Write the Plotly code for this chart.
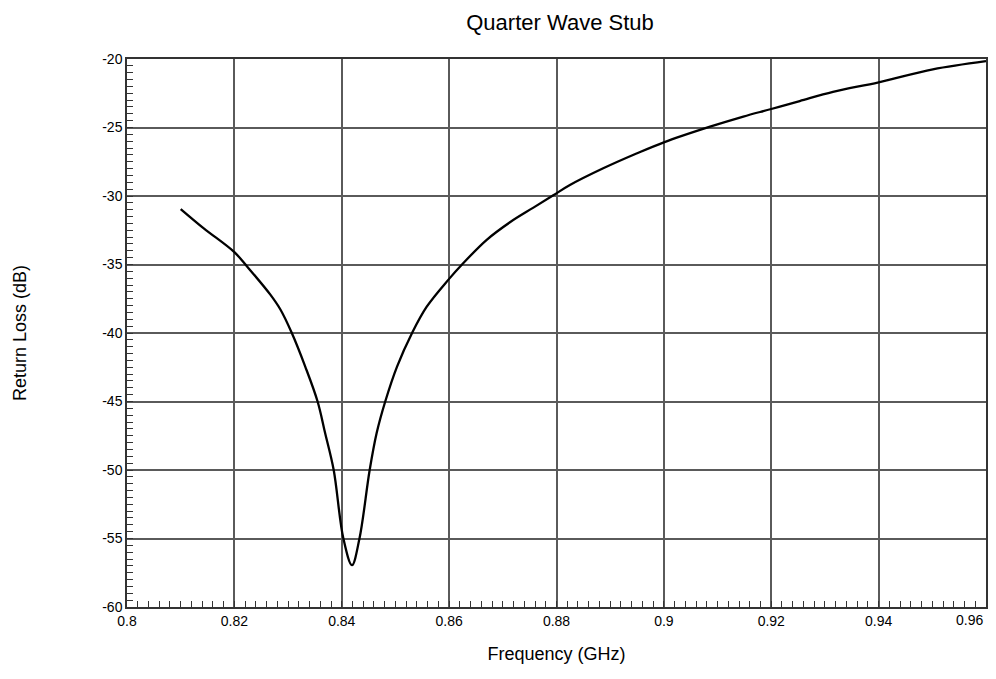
import plotly.graph_objects as go

freq_ghz = [0.810, 0.8143, 0.820, 0.8224, 0.8267, 0.8286, 0.8307, 0.8332,
            0.8355, 0.8369, 0.8385, 0.8403, 0.8419, 0.8433, 0.8452,
            0.8465, 0.8481, 0.8503, 0.8531, 0.8558, 0.860, 0.8624, 0.867, 0.8714,
            0.8757, 0.8794, 0.8825, 0.8887, 0.8949, 0.900, 0.9086, 0.9148, 0.920,
            0.9253, 0.9315, 0.940, 0.9501, 0.960]
return_loss_db = [-30.95, -32.36, -34.1, -35.16, -37.2, -38.3, -40.0, -42.45,
                  -45.0, -47.3, -50.0, -55.0, -56.95, -55.0, -50.0,
                  -47.3, -45.0, -42.45, -40.0, -38.1, -36.05, -35.0, -33.2, -31.9,
                  -30.85, -29.95, -29.2, -27.98, -26.9, -26.08, -24.94, -24.2, -23.65,
                  -23.07, -22.4, -21.7, -20.75, -20.15]

x_ticks = [0.8, 0.82, 0.84, 0.86, 0.88, 0.9, 0.92, 0.94, 0.96]
x_tick_labels = ["0.8", "0.82", "0.84", "0.86", "0.88", "0.9", "0.92", "0.94", "0.96"]
y_ticks = [-60, -55, -50, -45, -40, -35, -30, -25, -20]
y_tick_labels = ["-60", "-55", "-50", "-45", "-40", "-35", "-30", "-25", "-20"]

FONT = "Liberation Sans, Arial, sans-serif"

fig = go.Figure()
fig.add_trace(go.Scatter(
    x=freq_ghz, y=return_loss_db, mode="lines",
    line=dict(color="black", width=2.3, shape="spline", smoothing=1.0),
    showlegend=False, hoverinfo="x+y"))

axis_common = dict(
    showgrid=True, gridcolor="#5a5a5a", gridwidth=1.5,
    showline=True, linecolor="#333333", linewidth=1.5, mirror=True,
    ticks="inside", ticklen=0, tickcolor="#333333",
    zeroline=False, automargin=False,
    tickfont=dict(family=FONT, size=14, color="black"),
)

# last x label is drawn as an annotation so that it stays inside the page
shown_x_labels = x_tick_labels[:-1] + [""]

fig.update_xaxes(
    range=[0.8, 0.96], tickvals=x_ticks, ticktext=shown_x_labels,
    minor=dict(dtick=0.002, ticks="inside", ticklen=6, tickcolor="#333333", showgrid=False),
    title=dict(text="Frequency (GHz)", font=dict(family=FONT, size=18, color="black"), standoff=20),
    **axis_common)
fig.update_yaxes(
    range=[-60, -20], tickvals=y_ticks, ticktext=y_tick_labels,
    minor=dict(dtick=0.5, ticks="inside", ticklen=6, tickcolor="#333333", showgrid=False),
    title=dict(text="Return Loss (dB)", font=dict(family=FONT, size=18, color="black"), standoff=71),
    **axis_common)

fig.add_annotation(
    x=x_ticks[-1], xref="x", y=0, yref="paper", yanchor="top", xanchor="right",
    xshift=-1, yshift=-3, text=x_tick_labels[-1], showarrow=False,
    font=dict(family=FONT, size=14, color="black"))

fig.update_layout(
    width=988, height=671,
    margin=dict(l=118.5, r=10, t=51, b=71.5),
    paper_bgcolor="white", plot_bgcolor="white",
    title=dict(text="Quarter Wave Stub", x=0.5587, xanchor="center", y=0.979, yanchor="middle",
               font=dict(family=FONT, size=22, color="black")),
)

fig.write_html("out.html")
